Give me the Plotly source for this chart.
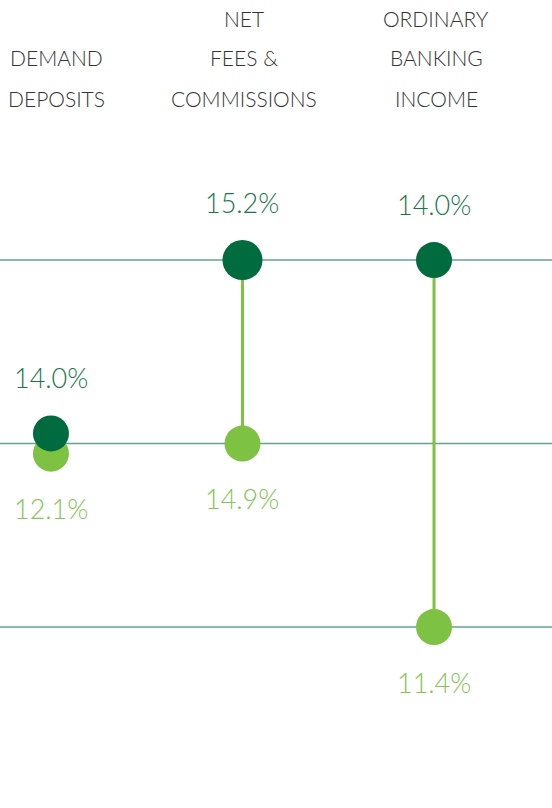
import plotly.graph_objects as go

cat_lines = [["DEMAND", "DEPOSITS"], ["NET", "FEES &", "COMMISSIONS"], ["ORDINARY", "BANKING", "INCOME"]]
dark_values = [14.0, 15.2, 14.0]
light_values = [12.1, 14.9, 11.4]
# vertical level (rank row) of each dot as drawn in the infographic
dark_levels = [1.055, 2.0, 2.0]
light_levels = [0.945, 1.0, 0.0]
grid_levels = [0, 1, 2]

DARK = "#006B3F"
LIGHT = "#7DC242"
DARK_TXT = "#1A774C"
LIGHT_TXT = "#84C456"
GRID = "#66A28B"
FONT = "Lato"

xs = [0, 1, 2]
fig = go.Figure()

for g in grid_levels:
    fig.add_shape(type="line", xref="paper", x0=0, x1=1, yref="y", y0=g, y1=g,
                  line=dict(color=GRID, width=1.4), layer="below")

for x, d, l in zip(xs, dark_levels, light_levels):
    fig.add_trace(go.Scatter(x=[x, x], y=[d, l], mode="lines",
                             line=dict(color=LIGHT, width=3), hoverinfo="skip", showlegend=False))

vmax = max(dark_values + light_values)
light_sizes = [36 for v in light_values]
dark_sizes = [40 if v == vmax else 36 for v in dark_values]

fig.add_trace(go.Scatter(x=xs, y=light_levels, mode="markers",
                         marker=dict(color=LIGHT, size=light_sizes, opacity=1, line=dict(width=0)),
                         showlegend=False))
fig.add_trace(go.Scatter(x=xs, y=dark_levels, mode="markers",
                         marker=dict(color=DARK, size=dark_sizes, opacity=1, line=dict(width=0)),
                         showlegend=False))

for x, v, lv, s in zip(xs, dark_values, dark_levels, dark_sizes):
    fig.add_annotation(x=x, y=lv, text=f"{v:.1f}%", showarrow=False, yshift=38 + s / 2,
                       font=dict(family=FONT, size=27, color=DARK_TXT, weight=300))
for x, v, lv in zip(xs, light_values, light_levels):
    fig.add_annotation(x=x, y=lv, text=f"{v:.1f}%", showarrow=False, yshift=-55,
                       font=dict(family=FONT, size=27, color=LIGHT_TXT, weight=300))

for x, lines in zip(xs, cat_lines):
    n = len(lines)
    for i, t in enumerate(lines):
        row = 3 - n + i
        fig.add_annotation(x=x, xshift=6 if x == 0 else 2, xref="x", yref="paper",
                           y=1 - (18 + 40 * row) / 808, yanchor="middle",
                           text=t, showarrow=False,
                           font=dict(family=FONT, size=21, color="#333333", weight=300))

fig.update_layout(
    width=552, height=808,
    margin=dict(l=0, r=0, t=0, b=0),
    paper_bgcolor="white", plot_bgcolor="white",
    xaxis=dict(range=[-0.266, 2.616], visible=False, fixedrange=True),
    yaxis=dict(range=[-0.986, 3.417], visible=False, fixedrange=True),
    showlegend=False,
)
fig.write_html("out.html", config={"displayModeBar": False},
               post_script="document.body.style.margin='0';document.body.style.padding='0';")
